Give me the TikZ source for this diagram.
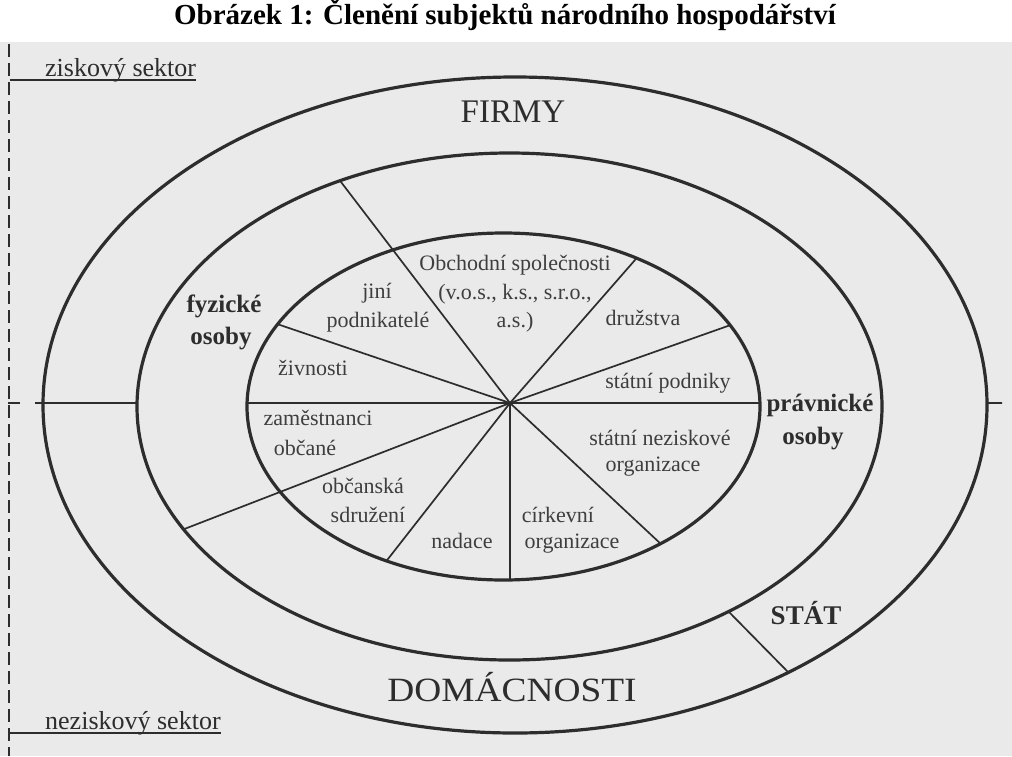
\documentclass[tikz,border=0pt]{standalone}
\usepackage{fontspec}
\setmainfont{Liberation Serif}
\usetikzlibrary{intersections,calc}
\definecolor{paper}{RGB}{234,234,234}
\definecolor{ink}{RGB}{45,45,45}
\definecolor{txt}{RGB}{62,62,62}
\begin{document}
\begin{tikzpicture}[x=1pt,y=-1pt,
  ell/.style={draw=ink,line width=3.2pt},
  spoke/.style={draw=ink,line width=1.7pt},
  lab/.style={text=txt,font=\rmfamily\fontsize{22}{22}\selectfont,inner sep=0pt,text height=15pt,text depth=5pt},
  bold/.style={text=ink,font=\rmfamily\bfseries\fontsize{25}{25}\selectfont,inner sep=0pt,text height=17pt,text depth=6pt},
  big/.style={text=ink,font=\rmfamily\fontsize{33}{33}\selectfont,inner sep=0pt,anchor=base},
  sector/.style={text=ink,font=\rmfamily\fontsize{26}{26}\selectfont,inner sep=0pt,anchor=base west},
  uline/.style={draw=ink,line width=1.6pt}]
\useasboundingbox (0,0) rectangle (1012,756);
\fill[white] (0,0) rectangle (1012,756);
\fill[paper] (0,42) rectangle (1012,756);

% title
\node[font=\rmfamily\bfseries\fontsize{29}{29}\selectfont,anchor=base,inner sep=0pt] (title) at (505,24) {Obrázek 1: Členění subjektů národního hospodářství};

% left dashed boundary
\coordinate (dtop) at (9,44);
\coordinate (dbot) at (9,756);
\draw[ink,line width=1.3pt,dash pattern=on 13pt off 6pt] (dtop) -- (dbot);

% sector labels
\node[sector] (zisk) at (45,76) {ziskový sektor};
\coordinate (zu) at (10,80);
\draw[uline] (zu) -- (zu -| zisk.east);
\node[sector] (nezisk) at (45,729) {neziskový sektor};
\coordinate (nu) at (10,733);
\draw[uline] (nu) -- (nu -| nezisk.east);

% ellipses
\draw[ell,name path=outer] (515,405) ellipse [x radius=472pt,y radius=328pt];
\draw[ell,name path=middle] (509.5,406.5) ellipse [x radius=372.5pt,y radius=253.5pt];
\draw[ell,name path=inner] (503.5,406.5) ellipse [x radius=256.5pt,y radius=173.5pt];

\coordinate (C) at (510,403);

% spokes to inner ellipse
\foreach \px/\py in {635/260,725/327,280/325,388/559,510/580,662/545,760/403,247/403}{
  \path[name path=ray] (C) -- ($(C)!3!(\px,\py)$);
  \path[name intersections={of=ray and inner,by=e}];
  \draw[spoke] (C) -- (e);
}
% spokes to middle ellipse
\foreach \px/\py in {393/250,280/492}{
  \path[name path=ray] (C) -- ($(C)!3!(\px,\py)$);
  \path[name intersections={of=ray and middle,by=e}];
  \draw[spoke] (C) -- (e);
}
% left horizontal divider (outer ring)
\coordinate (lw) at (35,403);
\path[name path=lray] (C) -- (0,403);
\path[name intersections={of=lray and middle,by=ml}];
\draw[spoke] (ml) -- (lw);
\coordinate (d1) at (8,403);
\coordinate (d2) at (20,403);
\draw[spoke] (d1) -- (d2);
% right tick
\coordinate (rt) at (1002,403);
\path[name path=rray] (C) -- (1012,403);
\path[name intersections={of=rray and outer,by=orr}];
\draw[spoke] (orr) -- (rt);
% STAT divider
\coordinate (sa) at (730,613);
\coordinate (sb) at (788,672);
\path[name path=sray] ($(sa)!-0.5!(sb)$) -- ($(sa)!1.5!(sb)$);
\path[name intersections={of=sray and middle,by=s1}];
\path[name intersections={of=sray and outer,by=s2}];
\draw[spoke] (s1) -- (s2);

% big labels
\node[big] (firmy) at (513,122) {FIRMY};
\node[big,font=\rmfamily\fontsize{34}{34}\selectfont] (domac) at (512,701) {\scalebox{1.1}[1]{DOMÁCNOSTI}};
\node[big,font=\rmfamily\bfseries\fontsize{27}{27}\selectfont] (stat) at (806,624) {STÁT};

\node[bold] (fyz1) at (224,307) {fyzické};
\node[bold] (fyz2) at (221,339) {osoby};
\node[bold] (prav1) at (820,406) {právnické};
\node[bold] (prav2) at (813,439) {osoby};

% inner labels
\node[lab] (ob1) at (515,265) {Obchodní společnosti};
\node[lab] (ob2) at (515,294) {(v.o.s., k.s., s.r.o.,};
\node[lab] (ob3) at (515,322) {a.s.)};
\node[lab] (jini1) at (377,293) {jiní};
\node[lab] (jini2) at (378,322) {podnikatelé};
\node[lab] (druz) at (643,320) {družstva};
\node[lab] (ziv) at (313,370) {živnosti};
\node[lab] (sp) at (668,383) {státní podniky};
\node[lab] (zam) at (318,420) {zaměstnanci};
\node[lab] (obc) at (305,450) {občané};
\node[lab] (sn1) at (660,440) {státní neziskové};
\node[lab] (sn2) at (653,466) {organizace};
\node[lab] (os1) at (363,488) {občanská};
\node[lab] (os2) at (368,517) {sdružení};
\node[lab] (nad) at (462,543) {nadace};
\node[lab] (cir1) at (558,517) {církevní};
\node[lab] (cir2) at (572,543) {organizace};
\end{tikzpicture}
\end{document}
